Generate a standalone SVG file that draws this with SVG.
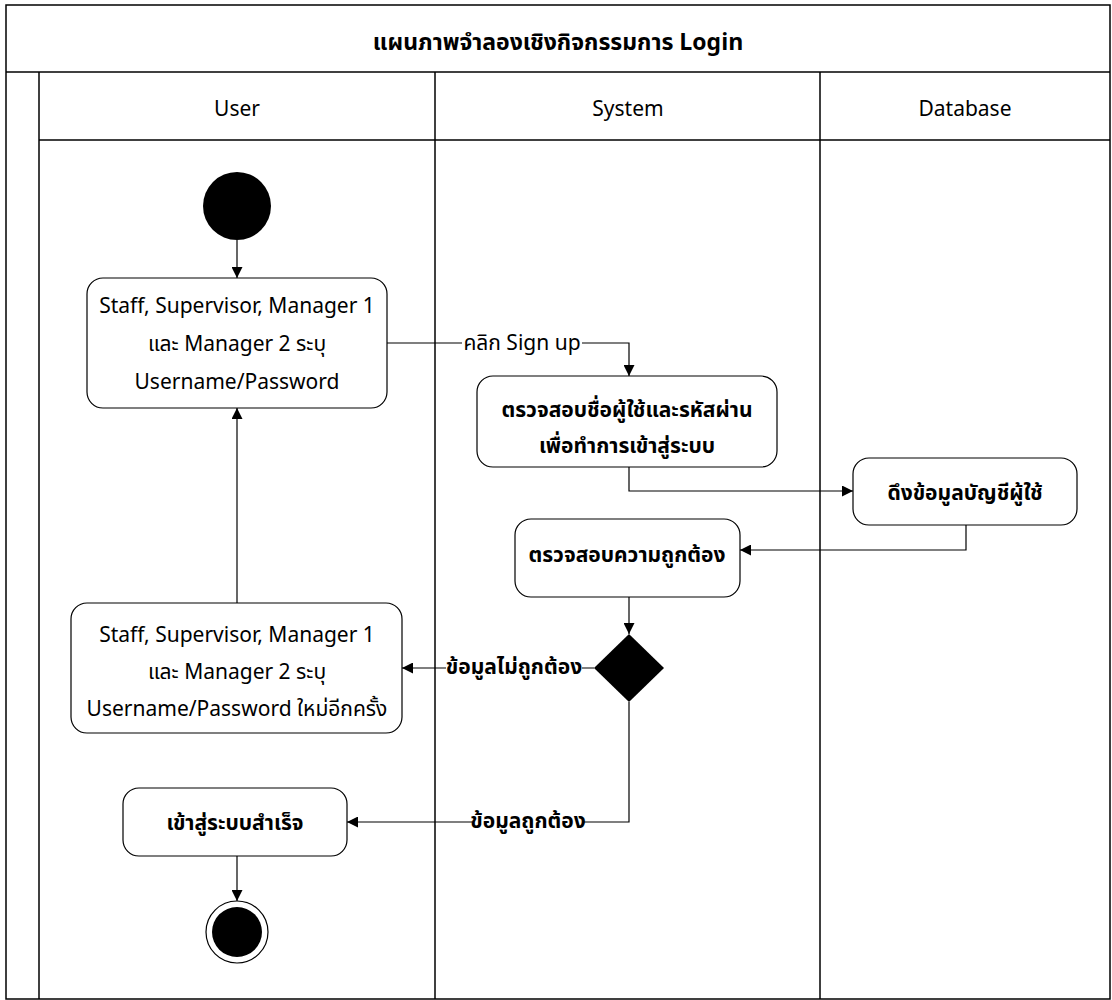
<svg xmlns="http://www.w3.org/2000/svg" width="1112" height="1000" viewBox="0 0 1112 1000">
<defs>
<style>
text{font-family:"Noto Sans Thai","Noto Sans","DejaVu Sans",sans-serif;font-size:21px;fill:#000;text-anchor:middle;dominant-baseline:central}
.b{font-weight:bold}
.node{fill:#fff;stroke:#000;stroke-width:1.2}
.frame{fill:none;stroke:#000;stroke-width:1.5}
.conn{fill:none;stroke:#000;stroke-width:1.2}
.lbl{fill:#fff}
</style>
<marker id="ah" viewBox="0 0 10 10" refX="10" refY="5" markerWidth="11" markerHeight="11" markerUnits="userSpaceOnUse" orient="auto">
<path d="M0,0 L10,5 L0,10 z" fill="#000"/>
</marker>
</defs>
<rect width="1112" height="1000" fill="#fff"/>
<g id="frame">
<rect class="frame" x="6" y="5" width="1104" height="994"/>
<line class="frame" x1="6" y1="72" x2="1110" y2="72"/>
<line class="frame" x1="39" y1="72" x2="39" y2="999"/>
<line class="frame" x1="39" y1="140" x2="1110" y2="140"/>
<line class="frame" x1="435" y1="72" x2="435" y2="999"/>
<line class="frame" x1="820" y1="72" x2="820" y2="999"/>
<text x="558" y="43" class="b" style="font-size:23px">แผนภาพจำลองเชิงกิจกรรมการ Login</text>
<text x="237" y="109">User</text>
<text x="628" y="109">System</text>
<text x="965" y="109">Database</text>
</g>
<g id="connectors">
<line class="conn" x1="237" y1="240" x2="237" y2="278" marker-end="url(#ah)"/>
<polyline class="conn" points="387,343 629,343 629,376" marker-end="url(#ah)"/>
<polyline class="conn" points="629,467 629,491 853,491" marker-end="url(#ah)"/>
<polyline class="conn" points="966,525 966,550 740,550" marker-end="url(#ah)"/>
<line class="conn" x1="629" y1="597" x2="629" y2="634" marker-end="url(#ah)"/>
<line class="conn" x1="594" y1="668" x2="402" y2="668" marker-end="url(#ah)"/>
<line class="conn" x1="237" y1="603" x2="237" y2="408" marker-end="url(#ah)"/>
<polyline class="conn" points="629,702 629,822 347,822" marker-end="url(#ah)"/>
<line class="conn" x1="237" y1="856" x2="237" y2="901" marker-end="url(#ah)"/>
<rect class="lbl" x="462" y="332" width="120" height="24"/>
<text x="522" y="343">คลิก Sign up</text>
<rect class="lbl" x="446" y="656" width="136" height="24"/>
<text x="514" y="667" class="b">ข้อมูลไม่ถูกต้อง</text>
<rect class="lbl" x="472" y="810" width="112" height="24"/>
<text x="528" y="821" class="b">ข้อมูลถูกต้อง</text>
</g>
<g id="start">
<circle cx="237" cy="206" r="34" fill="#000"/>
</g>
<g id="box1">
<rect class="node" x="87" y="278" width="300" height="130" rx="16"/>
<text x="237" y="306">Staff, Supervisor, Manager 1</text>
<text x="237" y="344">และ Manager 2 ระบุ</text>
<text x="237" y="382">Username/Password</text>
</g>
<g id="box2">
<rect class="node" x="477" y="376" width="300" height="91" rx="16"/>
<text x="627" y="410" class="b">ตรวจสอบชื่อผู้ใช้และรหัสผ่าน</text>
<text x="627" y="446" class="b">เพื่อทำการเข้าสู่ระบบ</text>
</g>
<g id="box3">
<rect class="node" x="853" y="458" width="224" height="67" rx="16"/>
<text x="965" y="493" class="b">ดึงข้อมูลบัญชีผู้ใช้</text>
</g>
<g id="box4">
<rect class="node" x="515" y="519" width="225" height="78" rx="16"/>
<text x="627" y="555" class="b">ตรวจสอบความถูกต้อง</text>
</g>
<g id="decision">
<polygon points="629,634 664,668 629,702 594,668" fill="#000"/>
</g>
<g id="box5">
<rect class="node" x="71" y="603" width="331" height="130" rx="16"/>
<text x="237" y="635">Staff, Supervisor, Manager 1</text>
<text x="237" y="672">และ Manager 2 ระบุ</text>
<text x="237" y="709">Username/Password ใหม่อีกครั้ง</text>
</g>
<g id="box6">
<rect class="node" x="123" y="788" width="224" height="68" rx="16"/>
<text x="235" y="823" class="b">เข้าสู่ระบบสำเร็จ</text>
</g>
<g id="end">
<circle cx="237" cy="932" r="31" fill="#fff" stroke="#000" stroke-width="1.2"/>
<circle cx="237" cy="932" r="25" fill="#000"/>
</g>
</svg>
